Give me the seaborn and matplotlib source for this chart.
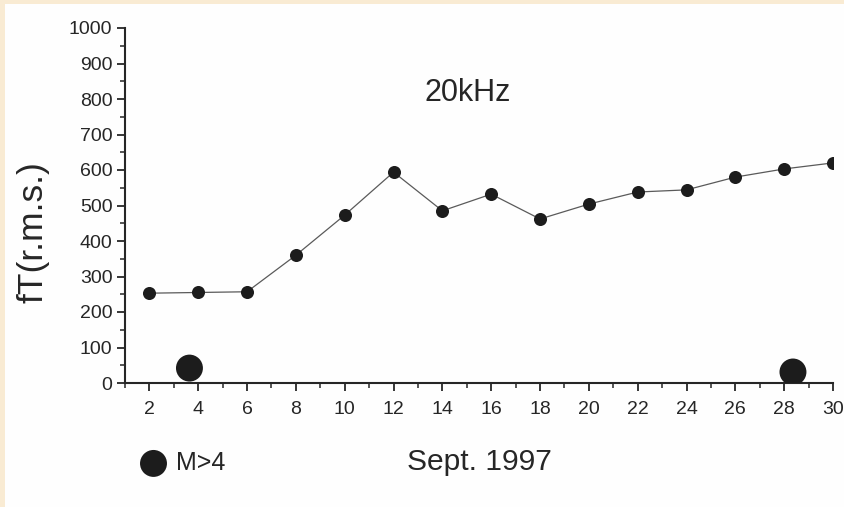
import matplotlib
matplotlib.use("Agg")
import matplotlib.pyplot as plt
import seaborn as sns
import pandas as pd
from matplotlib.patches import Rectangle
from matplotlib.ticker import MultipleLocator

# Daily fT (r.m.s.) level at 20 kHz, September 1997
days = [2, 4, 6, 8, 10, 12, 14, 16, 18, 20, 22, 24, 26, 28, 30]
ft_rms = [253, 255, 257, 360, 473, 594, 485, 532, 462, 504, 538, 544, 580, 603, 620]

# Earthquakes with magnitude above 4
quake_days = [3.64, 28.36]
quake_marks = [42, 31]

x_ticks = list(range(2, 31, 2))
y_ticks = list(range(0, 1001, 100))

sns.set_theme(style="ticks")
plt.rcParams["font.family"] = ["Liberation Sans", "DejaVu Sans"]
ink = "#262626"

fig = plt.figure(figsize=(8.44, 5.07), dpi=100)
fig.patch.set_facecolor("#f9ebd3")
fig.add_artist(Rectangle((5 / 844, 0), 1, 1 - 4 / 507, transform=fig.transFigure,
                         facecolor="#fefefe", edgecolor="none", zorder=-10))

ax = fig.add_axes([125 / 844, 1 - 383 / 507, 708 / 844, 355 / 507])
ax.set_facecolor("none")

df = pd.DataFrame({"day": days, "ft": ft_rms})
sns.lineplot(data=df, x="day", y="ft", ax=ax, color="#5a5a5a", linewidth=0.9,
             marker="o", markersize=9.4, markerfacecolor="#1c1c1c",
             markeredgecolor="#1c1c1c", markeredgewidth=0)

qdf = pd.DataFrame({"day": quake_days, "level": quake_marks})
sns.scatterplot(data=qdf, x="day", y="level", ax=ax, s=19.4 ** 2, color="#1c1c1c",
                edgecolor="none", label="M>4", zorder=5)

ax.set_xlim(1, 30)
ax.set_ylim(0, 1000)
ax.set_xticks(x_ticks)
ax.set_yticks(y_ticks)
ax.xaxis.set_minor_locator(MultipleLocator(1))
ax.yaxis.set_minor_locator(MultipleLocator(50))

sns.despine(ax=ax)
for side in ("left", "bottom"):
    ax.spines[side].set_linewidth(1.5)
    ax.spines[side].set_color(ink)

ax.tick_params(axis="both", which="major", direction="out", length=6, width=1.3,
               labelsize=14, colors=ink)
ax.tick_params(axis="both", which="minor", direction="out", length=3.5, width=1.1,
               colors=ink)
ax.tick_params(axis="x", which="major", pad=7)
ax.tick_params(axis="y", which="major", pad=3)

ax.set_ylabel("fT(r.m.s.)", fontsize=25.5, color=ink)
ax.yaxis.set_label_coords(-0.106, 0.425)
ax.set_xlabel("Sept. 1997", fontsize=21.6, color=ink)
ax.xaxis.set_label_coords(0.5, -0.183)

ax.text(0.4845, 0.818, "20kHz", transform=ax.transAxes, ha="center", va="center",
        fontsize=22, color=ink)

ax.legend(loc="center left", bbox_to_anchor=(116 / 844, 1 - 463 / 507),
          bbox_transform=fig.transFigure, frameon=False, fontsize=18,
          handlelength=1.2, handletextpad=0.3, labelcolor=ink)

fig.savefig("out.png", dpi=100, facecolor=fig.get_facecolor())
